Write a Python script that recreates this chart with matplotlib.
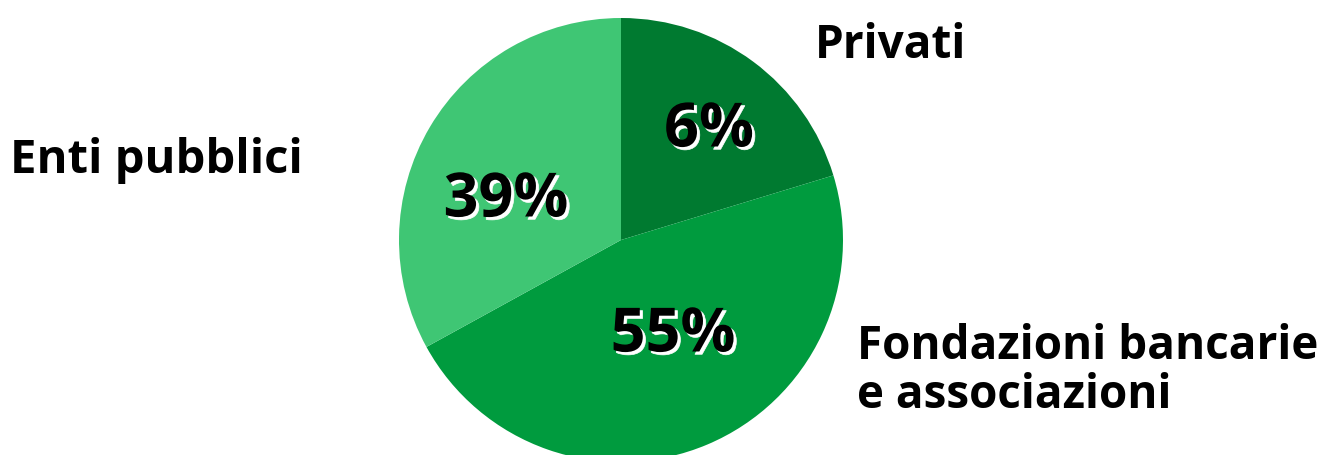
import numpy as np
import matplotlib
matplotlib.use('Agg')
import matplotlib.pyplot as plt
import matplotlib.patheffects as pe

# slice sizes as drawn, and the percentages printed on them
categories = ['Privati', 'Fondazioni bancarie\ne associazioni', 'Enti pubblici']
sizes = [20.3, 46.7, 33.0]
pct_labels = ['6%', '55%', '39%']
colors = ['#007A30', '#009B3E', '#3FC674']

plt.rcParams['font.family'] = ['Open Sans', 'DejaVu Sans']

fig = plt.figure(figsize=[13.21, 4.55], dpi=100)
ax = fig.add_axes([0, 0, 1, 1])

wedges, _ = ax.pie(sizes, colors=colors, startangle=90, counterclock=False,
                   center=(621, 215), radius=222, frame=True)
ax.set_xlim(0, 1321)
ax.set_ylim(0, 455)
ax.axis('off')

# percentage labels with a white offset shadow
shadow = [pe.PathPatchEffect(offset=(2, -2), facecolor='white', edgecolor='white', linewidth=0.5),
          pe.Normal()]
pct_pos = [(709, 324), (673, 119), (506, 254)]
for txt, (x, y) in zip(pct_labels, pct_pos):
    ax.text(x, y, txt, ha='center', va='center', fontsize=44,
            fontweight='bold', color='black', path_effects=shadow)

# category labels
ax.text(815, 410, categories[0], ha='left', va='center', fontsize=33, fontweight='bold')
ax.text(857, 84, categories[1], ha='left', va='center', fontsize=33,
        fontweight='bold', linespacing=1.03)
ax.text(10, 294, categories[2], ha='left', va='center', fontsize=34, fontweight='bold')

fig.savefig('out.png', dpi=100)
